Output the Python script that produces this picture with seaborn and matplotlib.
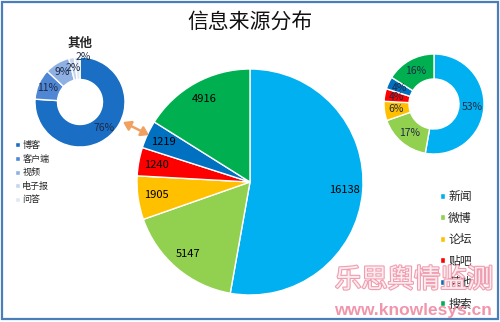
import matplotlib
matplotlib.use("Agg")
import matplotlib.pyplot as plt
import seaborn as sns
import numpy as np
from matplotlib.patches import Rectangle
import matplotlib.patheffects as pe

# ---------------- data ----------------
title = "信息来源分布"
sources = ["新闻", "微博", "论坛", "贴吧", "其他", "搜索"]
source_counts = [16138, 5147, 1905, 1240, 1219, 4916]
source_colors = ["#00B0F0", "#92D050", "#FFC000", "#FF0000", "#0070C0", "#00B050"]

other_title = "其他"
other_types = ["博客", "客户端", "视频", "电子报", "问答"]
other_pcts = [76, 11, 9, 2, 2]
other_colors = ["#1A6EC4", "#4F87D4", "#8EB0E3", "#C4D5EF", "#E0E8F5"]

watermark_cn = "乐思舆情监测"
watermark_url = "www.knowlesys.cn"

# ---------------- style ----------------
sns.set_theme(style="white")
plt.rcParams["font.family"] = ["Noto Sans CJK SC", "DejaVu Sans"]

W, H = 500, 322
fig = plt.figure(figsize=(W / 100, H / 100), dpi=100)
fig.patch.set_facecolor("white")


def px_axes(cx, cy, r):
    a = fig.add_axes([(cx - r) / W, (H - cy - r) / H, 2 * r / W, 2 * r / H])
    return a


def finish(a):
    a.set_xlim(-1, 1)
    a.set_ylim(-1, 1)
    a.set_aspect("equal")
    a.axis("off")


total = sum(source_counts)
pal_src = sns.color_palette(source_colors)
pal_oth = sns.color_palette(other_colors)

# ---------------- main pie ----------------
ax = px_axes(250, 182, 113)
wedges, texts, autotexts = ax.pie(
    source_counts, colors=pal_src, startangle=90, counterclock=False,
    wedgeprops=dict(edgecolor="white", linewidth=1.0),
    autopct=lambda p: f"{int(round(p * total / 100))}", pctdistance=0.84,
    textprops=dict(fontsize=8, color="black"))
for w in wedges:
    w.set_clip_on(False)
finish(ax)

# ---------------- right donut ----------------
ax2 = px_axes(434, 104, 50)
w2, t2, a2 = ax2.pie(
    source_counts, colors=pal_src, startangle=90, counterclock=False,
    wedgeprops=dict(width=0.5, edgecolor="white", linewidth=1.0),
    autopct="%.0f%%", pctdistance=0.76,
    textprops=dict(fontsize=7.5, color="#1F2A44"))
for w in w2:
    w.set_clip_on(False)
finish(ax2)
ax2.legend(w2, sources, loc="upper left", bbox_to_anchor=(440 / W, 1 - 190 / H),
           bbox_transform=fig.transFigure, frameon=False, fontsize=8.5,
           handlelength=0.45, handleheight=0.45, handletextpad=0.25,
           labelspacing=0.72, borderpad=0, borderaxespad=0)

# ---------------- left donut ----------------
ax3 = px_axes(80, 102, 45)
w3, t3, a3 = ax3.pie(
    other_pcts, colors=pal_oth, startangle=90, counterclock=False,
    wedgeprops=dict(width=0.5, edgecolor="white", linewidth=1.0),
    autopct="%.0f%%", pctdistance=0.78,
    textprops=dict(fontsize=7.5, color="#1F2A44"))
for w in w3:
    w.set_clip_on(False)
x_last, y_last = a3[-1].get_position()
a3[-1].set_position((x_last + 0.12, y_last + 0.22))
finish(ax3)
ax3.set_title(other_title, fontsize=9, fontweight="bold", pad=7)
ax3.legend(w3, other_types, loc="upper left", bbox_to_anchor=(15 / W, 1 - 141 / H),
           bbox_transform=fig.transFigure, frameon=False, fontsize=6.5,
           handlelength=0.5, handleheight=0.5, handletextpad=0.3,
           labelspacing=0.5, borderpad=0, borderaxespad=0)

# ---------------- arrow ----------------
ax.annotate("", xy=(149, H - 135), xytext=(123, H - 122), xycoords="figure pixels",
            textcoords="figure pixels",
            arrowprops=dict(arrowstyle="<|-|>,head_length=0.45,head_width=0.3",
                            color="#F0A060", lw=1.8, mutation_scale=10,
                            shrinkA=0, shrinkB=0))

# ---------------- title ----------------
fig.text(250 / W, 1 - 23 / H, title, ha="center", va="center", fontsize=15, color="#111111")

# ---------------- watermark ----------------
fig.text(414 / W, 1 - 280 / H, watermark_cn, ha="center", va="center", fontsize=19,
         color="#FFF4F6",
         path_effects=[pe.withStroke(linewidth=1.6, foreground="#EE93A8")], alpha=0.9)
fig.text(413 / W, 1 - 310 / H, watermark_url, ha="center", va="center", fontsize=12.5,
         family=["Liberation Sans", "DejaVu Sans"], fontweight="bold",
         color="#F08AA2", alpha=0.9)

# ---------------- border ----------------
fig.add_artist(Rectangle((1.5 / W, (H - 319) / H), (497.5 - 1.5) / W, (319 - 1.5) / H,
                         transform=fig.transFigure, fill=False,
                         edgecolor="#4A7EBB", lw=1.6))

fig.savefig("out.png", dpi=100)
